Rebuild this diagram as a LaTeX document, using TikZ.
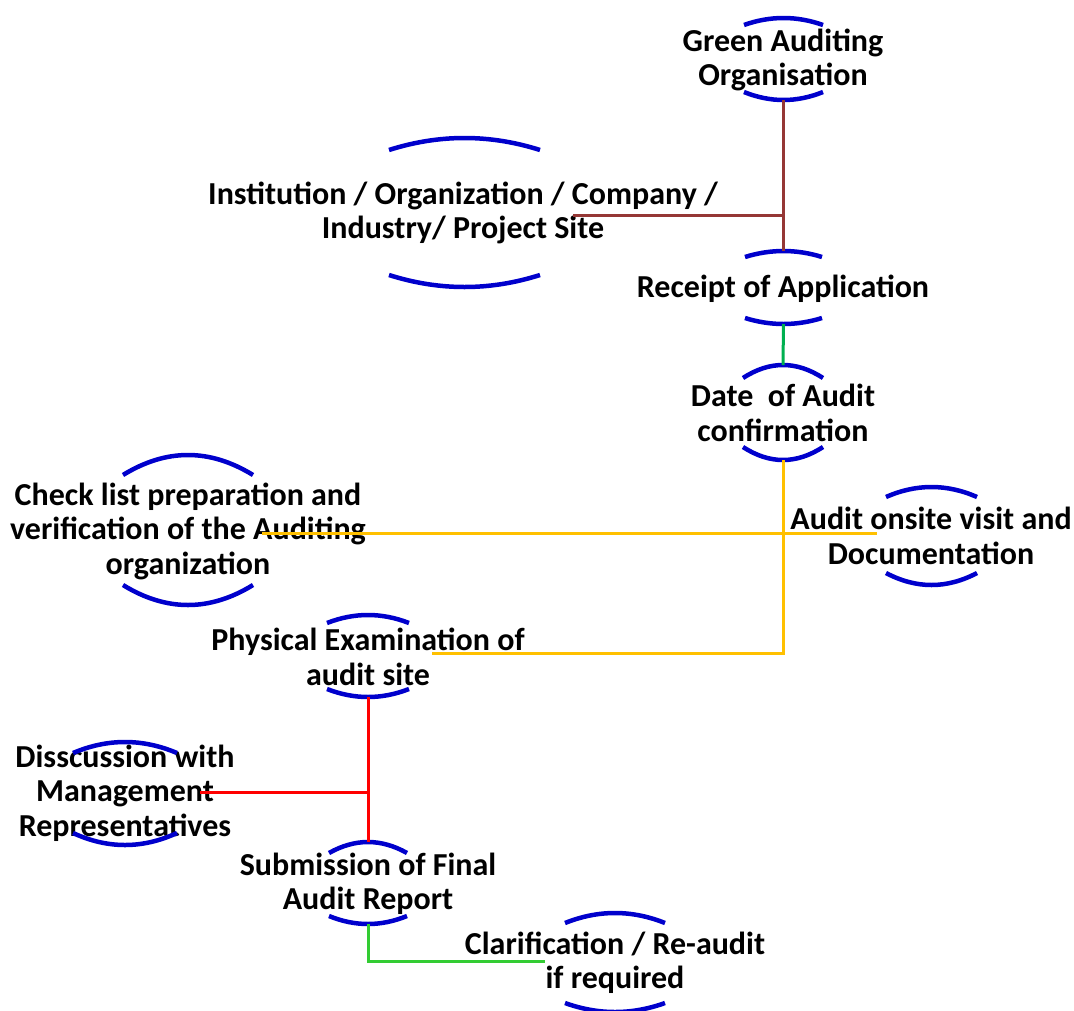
\documentclass[tikz,border=0pt]{standalone}
\usepackage{fontspec}
\setmainfont{Carlito}
\definecolor{arcblue}{RGB}{0,0,204}
\definecolor{cbrown}{RGB}{149,55,53}
\definecolor{cgreen}{RGB}{0,176,80}
\definecolor{cyellow}{RGB}{255,192,0}
\definecolor{cred}{RGB}{255,0,0}
\definecolor{clime}{RGB}{51,204,51}
\tikzset{
  lbl/.style={align=center,inner sep=0pt,font=\bfseries\fontsize{32}{34.5}\selectfont},
  arcstyle/.style={draw=arcblue,line width=4.5pt},
  conn/.style={line width=3pt},
}
\newcommand\lensarcs[7]{%
  \draw[arcstyle] (#2,#4) .. controls ({#2+(#3-#2)/3},{#4+(#5-#4)*4/3}) and ({#3-(#3-#2)/3},{#4+(#5-#4)*4/3}) .. (#3,#4);
  \draw[arcstyle] (#2,#6) .. controls ({#2+(#3-#2)/3},{#6+(#7-#6)*4/3}) and ({#3-(#3-#2)/3},{#6+(#7-#6)*4/3}) .. (#3,#6);
  \coordinate (#1-t) at ({(#2+#3)/2},#5);
  \coordinate (#1-b) at ({(#2+#3)/2},#7);
}
\begin{document}
\begin{tikzpicture}[x=1pt,y=-1pt]
\useasboundingbox (0,0) rectangle (1074,1010);
% nodes
\node[lbl] (ga) at (783,60) {Green Auditing\\Organisation};
\node[lbl] (inst) at (463,213) {Institution / Organization / Company /\\Industry/ Project Site};
\node[lbl] (rec) at (783,289) {Receipt of Application};
\node[lbl] (date) at (783,413) {Date~ of Audit\\confirmation};
\node[lbl] (onsite) at (931,536) {Audit onsite visit and\\Documentation};
\node[lbl] (check) at (188,531) {Check list preparation and\\verification of the Auditing\\organization};
\node[lbl] (phys) at (368,657) {Physical Examination of\\audit site};
\node[lbl] (disc) at (125,793) {Disscussion with\\Management\\Representatives};
\node[lbl] (sub) at (368,884) {Submission of Final\\Audit Report};
\node[lbl] (clar) at (615,963) {Clarification / Re-audit\\if required};
% arcs
\lensarcs{ga}{744}{823}{25}{18}{92}{100}
\lensarcs{inst}{389}{540}{150}{138}{275}{287}
\lensarcs{rec}{745}{822}{257}{251}{318}{324}
\lensarcs{date}{743}{823}{378}{365}{447}{460}
\lensarcs{onsite}{886}{977}{497}{487}{573}{585}
\lensarcs{check}{123}{253}{475}{455}{585}{605}
\lensarcs{phys}{327}{409}{623}{615}{689}{697}
\lensarcs{disc}{73}{177}{753}{742}{833}{845}
\lensarcs{sub}{329}{407}{853}{842}{916}{924}
\lensarcs{clar}{565}{665}{923}{913}{1003}{1012}
% connector end points inside labels
\coordinate (inst-c) at (573,215);
\coordinate (check-c) at (262,533);
\coordinate (onsite-c) at (877,533);
\coordinate (phys-c) at (432,653);
\coordinate (disc-c) at (200,792);
\coordinate (clar-c) at (545,961);
% connectors
\draw[conn,cbrown] (ga-b) -- (rec-t);
\draw[conn,cbrown] (inst-c) -- (inst-c -| ga-b);
\draw[conn,cgreen] (rec-b) -- (date-t);
\draw[conn,cyellow] (date-b) -- (date-b |- phys-c) -- (phys-c);
\draw[conn,cyellow] (check-c) -- (onsite-c);
\draw[conn,cred] (phys-b) -- (sub-t);
\draw[conn,cred] (disc-c) -- (disc-c -| phys-b);
\draw[conn,clime] (sub-b) -- (sub-b |- clar-c) -- (clar-c);
\end{tikzpicture}
\end{document}
